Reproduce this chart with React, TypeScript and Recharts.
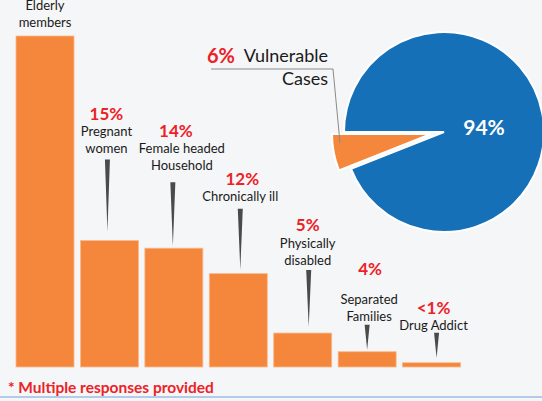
import React from 'react';
import { BarChart, Bar, XAxis, YAxis, PieChart, Pie, Cell } from 'recharts';

const categories = ['Elderly members', 'Pregnant women', 'Female headed Household', 'Chronically ill', 'Physically disabled', 'Separated Families', 'Drug Addict'];
const nameLines = [['Elderly', 'members'], ['Pregnant', 'women'], ['Female headed', 'Household'], ['Chronically ill'], ['Physically', 'disabled'], ['Separated', 'Families'], ['Drug Addict']];
const percentLabels = ['', '15%', '14%', '12%', '5%', '4%', '<1%'];
const barValues = [39, 14.9, 14, 11, 4, 1.8, 0.5];

const pieNames = ['Vulnerable Cases', 'Other'];
const pieValues = [6, 94];

// annotation placement above each bar (offsets in px)
const annot = [
    { gap: 0, len: 0, textGap: 14, pctGap: 16, tdx: 0, pdx: 0, sdx: 0 },
    { gap: 9, len: 72, textGap: 12, pctGap: 17, tdx: -3, pdx: -3, sdx: -2 },
    { gap: 2, len: 64, textGap: 17, pctGap: 18, tdx: 8, pdx: 2, sdx: -1 },
    { gap: 4, len: 61, textGap: 13, pctGap: 17, tdx: 2, pdx: 4, sdx: 2 },
    { gap: 6, len: 57, textGap: 10, pctGap: 19, tdx: 5, pdx: 5, sdx: 6 },
    { gap: 2, len: 25, textGap: 9, pctGap: 30, tdx: 2, pdx: 3, sdx: 0 },
    { gap: 5, len: 25, textGap: 8, pctGap: 17, tdx: 2, pdx: 2, sdx: 5 },
];

const ORANGE = '#f4873b';
const BLUE = '#1570b8';
const RED = '#ec2227';
const FONT = 'Lato, "Open Sans", sans-serif';

const barData = categories.map((name, i) => ({ name, value: barValues[i], idx: i }));
const pieData = pieNames.map((name, i) => ({ name, value: pieValues[i] }));

const BarWithNote = (props: any) => {
    const { x, y, width, height, payload } = props;
    const i = payload.idx;
    const a = annot[i];
    const cx = x + width / 2;
    const spikeBottom = y - a.gap;
    const spikeTop = spikeBottom - a.len;
    const lines = nameLines[i];
    const lastY = spikeTop - a.textGap;
    const firstY = lastY - (lines.length - 1) * 17;
    return (
        <g>
            <rect x={x} y={y} width={width} height={height} fill={ORANGE} stroke="#f9b98c" strokeWidth={0.8} />
            {a.len > 0 && (
                <polygon
                    points={`${cx + a.sdx - 2.5},${spikeTop} ${cx + a.sdx + 2.5},${spikeTop} ${cx + a.sdx},${spikeBottom}`}
                    fill="#4a4a4a"
                />
            )}
            {lines.map((l, k) => (
                <text key={k} x={cx + a.tdx} y={firstY + k * 17} textAnchor="middle" dominantBaseline="central"
                    fontFamily={FONT} fontSize={13} fill="#1a1a1a">{l}</text>
            ))}
            {percentLabels[i] && (
                <text x={cx + a.pdx} y={firstY - a.pctGap} textAnchor="middle" dominantBaseline="central"
                    fontFamily={FONT} fontSize={17} fontWeight={700} fill={RED}>{percentLabels[i]}</text>
            )}
        </g>
    );
};

const blueLabel = (p: any) => {
    if (p.index !== 1) return <g />;
    return (
        <text x={p.cx + 40} y={p.cy - 6} textAnchor="middle" dominantBaseline="central"
            fontFamily={FONT} fontSize={21} fontWeight={700} fill="#ffffff">94%</text>
    );
};

const orangeLabel = (p: any) => {
    if (p.index !== 0) return <g />;
    const { cx, cy } = p;
    return (
        <g>
            <polyline points={`${cx - 220},${cy - 65} ${cx - 98},${cy - 65} ${cx - 91},${cy + 9}`}
                fill="none" stroke="#8a8a8a" strokeWidth={1} />
            <text x={cx - 224} y={cy - 79} dominantBaseline="central" fontFamily={FONT} fontSize={20}
                fontWeight={700} fill={RED}>6%</text>
            <text x={cx - 103} y={cy - 79} textAnchor="end" dominantBaseline="central" fontFamily={FONT}
                fontSize={18} fill="#1a1a1a">Vulnerable</text>
            <text x={cx - 103} y={cy - 56} textAnchor="end" dominantBaseline="central" fontFamily={FONT}
                fontSize={18} fill="#1a1a1a">Cases</text>
        </g>
    );
};

export default function App() {
    return (
        <div style={{ position: 'fixed', left: 0, top: 0, width: 542, height: 401, background: '#f5f6f7', overflow: 'hidden', fontFamily: FONT }}>
            <div style={{ position: 'absolute', left: 0, top: 0 }}>
                <BarChart width={542} height={401} data={barData} margin={{ top: 36, right: 78, left: 13, bottom: 34 }}>
                    <XAxis dataKey="name" hide />
                    <YAxis hide domain={[0, 39]} />
                    <Bar dataKey="value" barSize={58} shape={BarWithNote} isAnimationActive={false} />
                </BarChart>
            </div>
            <div style={{ position: 'absolute', left: 0, top: 0 }}>
                <PieChart width={542} height={401} margin={{ top: 0, right: 0, left: 0, bottom: 0 }}>
                    <Pie data={pieData} dataKey="value" cx={444} cy={132} outerRadius={100} startAngle={180} endAngle={540}
                        label={blueLabel} labelLine={false} isAnimationActive={false}>
                        <Cell fill="transparent" stroke="none" />
                        <Cell fill={BLUE} stroke="#ffffff" strokeWidth={2} />
                    </Pie>
                    <Pie data={pieData} dataKey="value" cx={431} cy={134} outerRadius={99} startAngle={180} endAngle={540}
                        label={orangeLabel} labelLine={false} isAnimationActive={false}>
                        <Cell fill={ORANGE} stroke="#ffffff" strokeWidth={2} />
                        <Cell fill="transparent" stroke="none" />
                    </Pie>
                </PieChart>
            </div>
            <div style={{ position: 'absolute', left: 8, top: 376, fontSize: 15.5, fontWeight: 700, color: RED, lineHeight: '22px' }}>
                * Multiple responses provided
            </div>
            <div style={{ position: 'absolute', left: 0, top: 396, width: 542, height: 2, background: '#b3cbe9' }} />
        </div>
    );
}
